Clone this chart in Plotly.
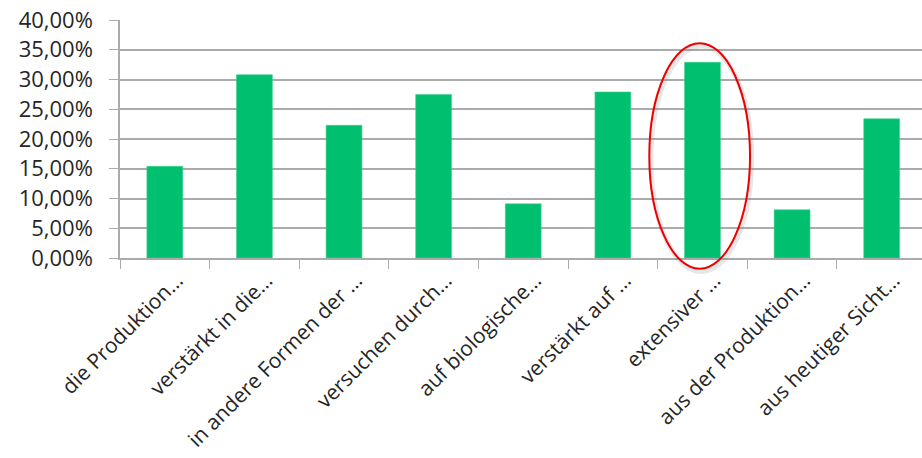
import plotly.graph_objects as go

# Survey answers (truncated labels) and share of respondents
categories = [
    "die Produktion…",
    "verstärkt in die…",
    "in andere Formen der …",
    "versuchen durch…",
    "auf biologische…",
    "verstärkt auf …",
    "extensiver …",
    "aus der Produktion…",
    "aus heutiger Sicht…",
]
shares = [0.154, 0.308, 0.223, 0.275, 0.091, 0.279, 0.329, 0.081, 0.234]

# Highlighted answer and the outline drawn around it (data units)
highlight_index = 6
ring_x = (highlight_index - 0.593, highlight_index + 0.531)
ring_y = (-0.018, 0.361)

x_range = [-0.5, 8.45]
y_range = [0, 0.40]

GRID = "#ababab"
BAR = "#00bf6f"
FONT = "Open Sans"

fig = go.Figure(
    go.Bar(
        x=categories,
        y=shares,
        width=0.4,
        marker=dict(color=BAR, line=dict(color="#3fd08f", width=0.6)),
        hoverinfo="x+y",
    )
)


def to_paper_x(v):
    return (v - x_range[0]) / (x_range[1] - x_range[0])


def to_paper_y(v):
    return (v - y_range[0]) / (y_range[1] - y_range[0])


# soft shadow under the ring, then the red ring itself
fig.add_shape(
    type="circle", xref="paper", yref="paper",
    x0=to_paper_x(ring_x[0]) + 0.002, x1=to_paper_x(ring_x[1]) + 0.002,
    y0=to_paper_y(ring_y[0]) - 0.012, y1=to_paper_y(ring_y[1]) - 0.012,
    line=dict(color="rgba(120,120,120,0.18)", width=5),
)
fig.add_shape(
    type="circle", xref="paper", yref="paper",
    x0=to_paper_x(ring_x[0]), x1=to_paper_x(ring_x[1]),
    y0=to_paper_y(ring_y[0]), y1=to_paper_y(ring_y[1]),
    line=dict(color="#ee0000", width=2),
)

fig.update_layout(
    width=922,
    height=458,
    margin=dict(l=120, r=0, t=20, b=200),
    paper_bgcolor="white",
    plot_bgcolor="white",
    separators=",.",
    showlegend=False,
    font=dict(family=FONT, color="#262626", size=21),
    bargap=0.6,
)
fig.update_xaxes(
    type="category",
    range=x_range,
    automargin=False,
    showline=True,
    linecolor=GRID,
    linewidth=1.5,
    ticks="outside",
    tickson="boundaries",
    ticklen=9,
    tickcolor=GRID,
    tickwidth=1.2,
    tickangle=-45,
    ticklabelshift=12,
    tickfont=dict(family=FONT, size=21, color="#262626"),
    showgrid=False,
)
fig.update_yaxes(
    range=y_range,
    automargin=False,
    dtick=0.05,
    tickformat=".2%",
    showline=True,
    linecolor=GRID,
    linewidth=1.5,
    ticks="outside",
    ticklen=9,
    tickcolor=GRID,
    tickwidth=1.2,
    ticklabelstandoff=12,
    showgrid=True,
    gridcolor=GRID,
    gridwidth=1.5,
    zeroline=False,
    tickfont=dict(family=FONT, size=22, color="#262626"),
)

fig.write_html("out.html")
